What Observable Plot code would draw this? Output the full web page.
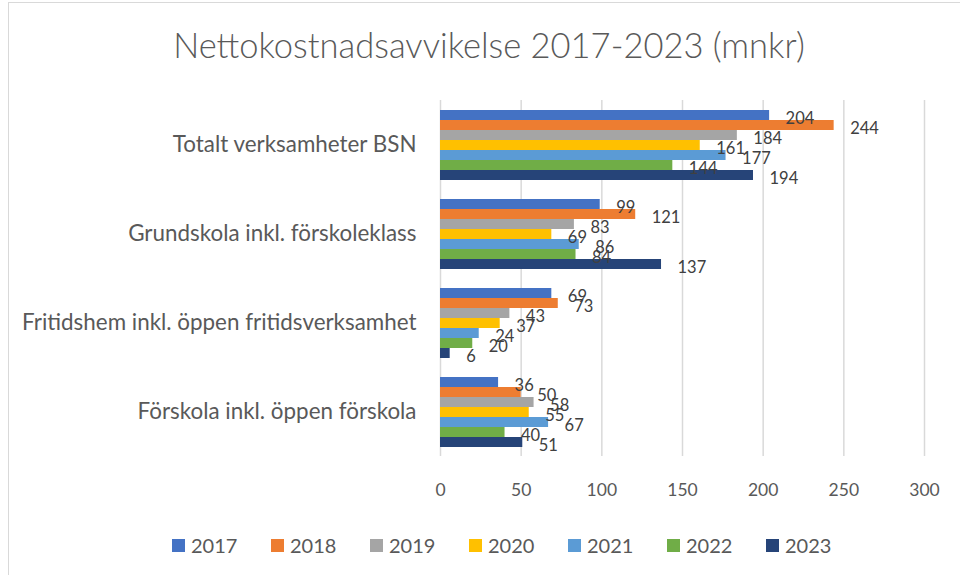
<!DOCTYPE html>
<html>
<head>
<meta charset="utf-8">
<script src="https://cdn.jsdelivr.net/npm/d3@7"></script>
<script src="https://cdn.jsdelivr.net/npm/@observablehq/plot@0.6"></script>
<style>
  html, body { margin: 0; padding: 0; background: #fff; }
  #wrap { position: relative; width: 960px; height: 575px; overflow: hidden; font-family: Lato, sans-serif; }
  #frame { position: absolute; left: 8px; top: 2px; width: 1000px; height: 700px; border: 1.3px solid #d9d9d9; box-sizing: border-box; }
  #title { position: absolute; left: 0; top: 24px; width: 978px; text-align: center; font-size: 34.5px; font-weight: 300; color: #595959; line-height: 42px; }
  #chart { position: absolute; left: 0; top: 0; }
  #legend { position: absolute; top: 533px; left: 0; width: 960px; height: 24px; }
  .item { position: absolute; top: 0; display: flex; align-items: center; height: 24px; font-size: 20px; color: #595959; }
  .sw { width: 13px; height: 13px; margin-right: 6px; }
  #chart g[aria-label^="fy-axis"] text { font-size: 22.4px; }
</style>
</head>
<body>
<div id="wrap">
  <div id="frame"></div>
  <div id="title">Nettokostnadsavvikelse 2017-2023 (mnkr)</div>
  <div id="chart"></div>
  <div id="legend"></div>
</div>
<script>
const categories = [
  "Totalt verksamheter BSN",
  "Grundskola inkl. förskoleklass",
  "Fritidshem inkl. öppen fritidsverksamhet",
  "Förskola inkl. öppen förskola"
];
const years = ["2017", "2018", "2019", "2020", "2021", "2022", "2023"];
const v2017 = [204, 99, 69, 36];
const v2018 = [244, 121, 73, 50];
const v2019 = [184, 83, 43, 58];
const v2020 = [161, 69, 37, 55];
const v2021 = [177, 86, 24, 67];
const v2022 = [144, 84, 20, 40];
const v2023 = [194, 137, 6, 51];
const xTicks = [0, 50, 100, 150, 200, 250, 300];
const colors = ["#4472C4", "#ED7D31", "#A5A5A5", "#FFC000", "#5B9BD5", "#70AD47", "#264478"];

const series = [v2017, v2018, v2019, v2020, v2021, v2022, v2023];
const rows = [];
categories.forEach((c, i) => {
  years.forEach((y, j) => rows.push({category: c, year: y, value: series[j][i]}));
});

const chart = Plot.plot({
  width: 960,
  height: 575,
  marginLeft: 440,
  marginRight: 36,
  marginTop: 100,
  marginBottom: 118,
  style: {fontFamily: "Lato, sans-serif", fontSize: "17.5px", color: "#595959", background: "transparent", overflow: "visible"},
  facet: {data: rows, y: "category"},
  fy: {domain: categories, label: null, axis: "left", tickSize: 0, tickPadding: 24, paddingInner: 0.2, paddingOuter: 0.1},
  x: {domain: [0, 300], ticks: xTicks, tickFormat: d => String(d), tickSize: 0, tickPadding: 36, label: null},
  y: {domain: years, padding: 0, axis: null},
  color: {domain: years, range: colors},
  marks: [
    Plot.ruleX(xTicks, {x: d => d, stroke: "#d9d9d9", strokeWidth: 1.5, insetTop: -9, insetBottom: -9}),
    Plot.barX(rows, {x: "value", y: "year", fill: "year"}),
    Plot.text(rows, {x: "value", y: "year", text: d => String(d.value), textAnchor: "start", dx: 16, dy: 3, fill: "#404040", fontSize: 16.5})
  ]
});
document.getElementById("chart").appendChild(chart);

const legend = document.getElementById("legend");
years.forEach((y, i) => {
  const it = document.createElement("div");
  it.className = "item";
  it.style.left = (172 + i * 99) + "px";
  const sw = document.createElement("div");
  sw.className = "sw";
  sw.style.background = colors[i];
  const t = document.createElement("span");
  t.textContent = y;
  it.appendChild(sw);
  it.appendChild(t);
  legend.appendChild(it);
});
</script>
</body>
</html>
